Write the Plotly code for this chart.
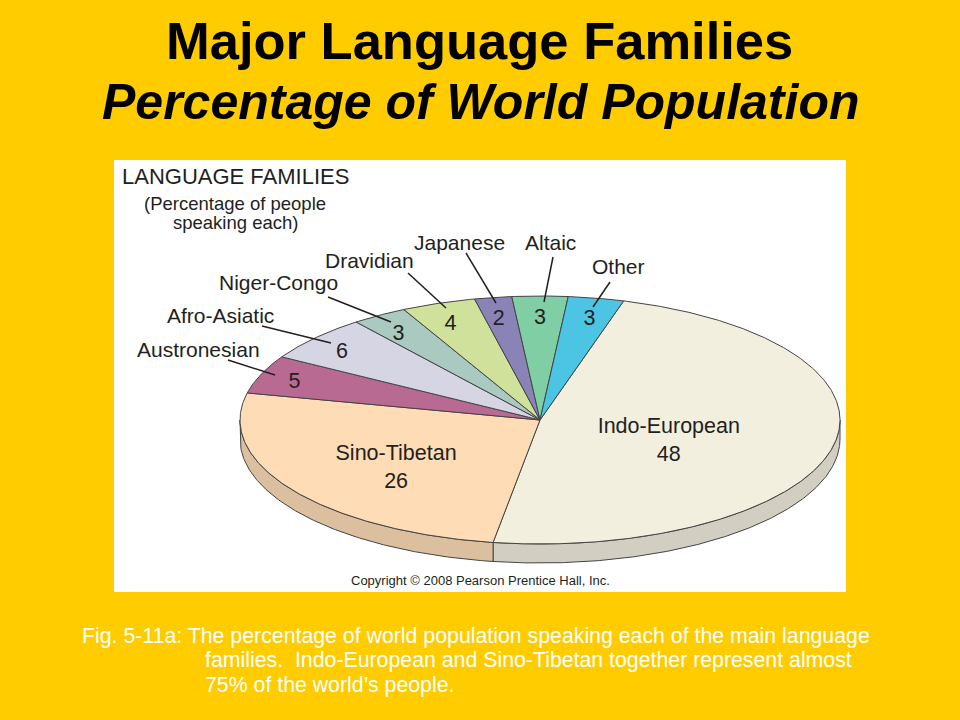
import math
import plotly.graph_objects as go

# ---------------- data ----------------
FAMILIES = ["Indo-European", "Sino-Tibetan", "Austronesian", "Afro-Asiatic",
            "Niger-Congo", "Dravidian", "Japanese", "Altaic", "Other"]
PERCENT = [48, 26, 5, 6, 3, 4, 2, 3, 3]

# ---------------- styles ----------------
FACE_COLORS = ["#f2efdf", "#fddcb6", "#b96a93", "#d6d5e4", "#a9c9c1",
               "#cfe19b", "#8a83b7", "#7fcea4", "#4cc4e4"]
BG = "#ffcc00"
EDGE = "#444444"
TXT = "#231f20"
FONT = "Liberation Sans, Arial, sans-serif"

CX, CY, RX, RY, DEPTH = 540, 420, 300, 124, 19
START_DEG = 16.2          # rotation of the pie (clockwise from top)
NUM_R = (0.88, 0.82)      # radial factor for small-slice numbers (x, y)
INSIDE_R = {"Indo-European": (0.44, 0.44, 10), "Sino-Tibetan": (0.58, 0.58, 8)}

# outer label positions (centres) and leader lines for the small slices
OUTER_POS = {
    "Austronesian": (198, 349), "Afro-Asiatic": (220, 315), "Niger-Congo": (278, 282),
    "Dravidian": (369, 260), "Japanese": (459, 242), "Altaic": (550, 242),
    "Other": (618, 266),
}
LEADERS = {
    "Austronesian": (228, 360, 275, 375), "Afro-Asiatic": (262, 326, 331, 343),
    "Niger-Congo": (328, 297, 391, 322), "Dravidian": (408, 273, 446, 308),
    "Japanese": (466, 253, 496, 303), "Altaic": (553, 257, 544, 302),
    "Other": (610, 282, 593, 307),
}


def ell(t_deg, r=1.0, dy=0.0):
    t = math.radians(t_deg)
    return CX + r * RX * math.sin(t), CY - r * RY * math.cos(t) + dy


def arc(t1, t2, dy=0.0):
    n = max(2, int(abs(t2 - t1) / 0.5) + 1)
    pts = [ell(t1 + (t2 - t1) * i / (n - 1), 1.0, dy) for i in range(n)]
    return [p[0] for p in pts], [p[1] for p in pts]


def darker(hexc, f=0.87):
    h = hexc.lstrip("#")
    r, g, b = (int(h[i:i + 2], 16) for i in (0, 2, 4))
    return "#%02x%02x%02x" % (int(r * f), int(g * f), int(b * f))


total = float(sum(PERCENT))
bounds = []
a = START_DEG
for p in PERCENT:
    b = a + 360.0 * p / total
    bounds.append((a, b))
    a = b

fig = go.Figure()

# rim (visible lower half of the side)
for name, (t1, t2), col in zip(FAMILIES, bounds, FACE_COLORS):
    lo, hi = max(t1, 90.0), min(t2, 270.0)
    if hi <= lo:
        continue
    xt, yt = arc(lo, hi)
    xb, yb = arc(hi, lo, DEPTH)
    fig.add_trace(go.Scatter(x=xt + xb + [xt[0]], y=yt + yb + [yt[0]], mode="lines",
                             fill="toself", fillcolor=darker(col),
                             line=dict(color=EDGE, width=1), hoverinfo="skip",
                             showlegend=False))

# top faces
for name, p, (t1, t2), col in zip(FAMILIES, PERCENT, bounds, FACE_COLORS):
    xs, ys = arc(t1, t2)
    fig.add_trace(go.Scatter(x=[CX] + xs + [CX], y=[CY] + ys + [CY], mode="lines",
                             fill="toself", fillcolor=col,
                             line=dict(color=EDGE, width=1), name=name,
                             hoverinfo="text", text=f"{name}: {p}%",
                             showlegend=False))

# labels in slices
nx, ny, ntext = [], [], []
for name, p, (t1, t2) in zip(FAMILIES, PERCENT, bounds):
    mid = (t1 + t2) / 2
    if name in INSIDE_R:
        rx, ry, off = INSIDE_R[name]
        x, _ = ell(mid, rx)
        _, y = ell(mid, ry, off)
        nx.append(x); ny.append(y); ntext.append(f"{name}<br>{p}")
    else:
        x, _ = ell(mid, NUM_R[0])
        _, y = ell(mid, NUM_R[1])
        nx.append(x); ny.append(y); ntext.append(str(p))
fig.add_trace(go.Scatter(x=nx, y=ny, mode="text", text=ntext,
                         textfont=dict(family=FONT, size=21.5, color=TXT),
                         textposition="middle center", hoverinfo="skip",
                         showlegend=False))

shapes = [dict(type="rect", xref="x", yref="y", x0=114, x1=846, y0=160, y1=592,
               fillcolor="white", line=dict(width=0), layer="below")]
annotations = []
for name in FAMILIES:
    if name in OUTER_POS:
        x, y = OUTER_POS[name]
        annotations.append(dict(x=x, y=y, text=name, showarrow=False,
                                font=dict(family=FONT, size=21, color=TXT)))
        x0, y0, x1, y1 = LEADERS[name]
        shapes.append(dict(type="line", xref="x", yref="y", x0=x0, y0=y0, x1=x1, y1=y1,
                           line=dict(color=TXT, width=1.5)))

CAP_FONT = dict(family=FONT, size=21.3, color="white")
# panel texts
annotations += [
    dict(x=120, y=176, xanchor="left", text="LANGUAGE FAMILIES", showarrow=False,
         font=dict(family=FONT, size=22, color=TXT)),
    dict(x=235, y=203, text="(Percentage of people", showarrow=False,
         font=dict(family=FONT, size=18.5, color=TXT)),
    dict(x=235, y=222, text="speaking each)", showarrow=False,
         font=dict(family=FONT, size=18.5, color=TXT)),
    dict(x=480, y=580, text="Copyright © 2008 Pearson Prentice Hall, Inc.", showarrow=False,
         font=dict(family=FONT, size=13, color=TXT)),
    # slide title
    dict(x=479, y=40, text="<b>Major Language Families</b>", showarrow=False,
         font=dict(family=FONT, size=52.5, color="black")),
    dict(x=480, y=102, text="<b><i>Percentage of World Population</i></b>", showarrow=False,
         font=dict(family=FONT, size=50, color="black")),
    # caption
    dict(x=80, y=636, xanchor="left",
         text="Fig. 5-11a: The percentage of world population speaking each of the main language",
         showarrow=False, font=CAP_FONT),
    dict(x=203, y=660, xanchor="left",
         text="families.  Indo-European and Sino-Tibetan together represent almost",
         showarrow=False, font=CAP_FONT),
    dict(x=203, y=685, xanchor="left", text="75% of the world’s people.", showarrow=False,
         font=CAP_FONT),
]

fig.update_layout(
    width=960, height=720, margin=dict(l=0, r=0, t=0, b=0),
    paper_bgcolor=BG, plot_bgcolor=BG,
    xaxis=dict(range=[0, 960], visible=False, fixedrange=True),
    yaxis=dict(range=[720, 0], visible=False, fixedrange=True),
    shapes=shapes, annotations=annotations, showlegend=False,
)

fig.write_html("out.html", config={"displayModeBar": False},
               post_script="document.body.style.margin='0';"
                           "document.body.style.background='#ffcc00';"
                           "document.body.style.overflow='hidden';")
